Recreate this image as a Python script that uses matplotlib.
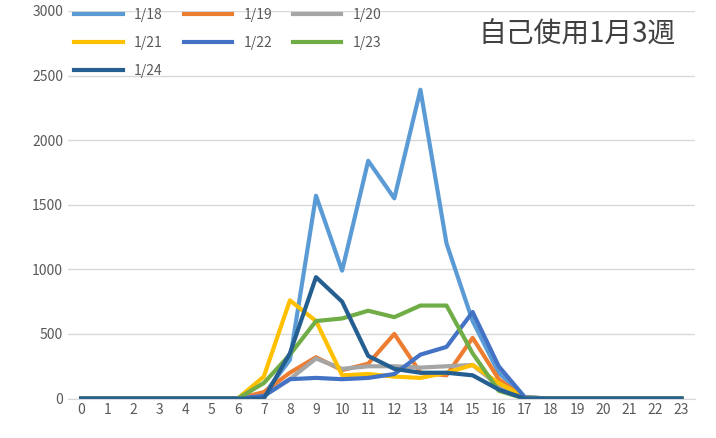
import matplotlib.pyplot as plt

plt.rcParams['font.family'] = ['Noto Sans CJK JP', 'DejaVu Sans']

hours = list(range(24))
z7 = [0] * 7
z6 = [0] * 6
s_0118 = z7 + [30, 300, 1570, 990, 1840, 1550, 2390, 1200, 600, 200, 10] + z6
s_0119 = z7 + [50, 200, 320, 220, 270, 500, 200, 180, 470, 150, 0] + z6
s_0120 = z7 + [20, 150, 310, 230, 250, 250, 240, 250, 260, 100, 0] + z6
s_0121 = z7 + [170, 760, 600, 180, 190, 170, 160, 200, 260, 120, 10] + z6
s_0122 = z7 + [20, 150, 160, 150, 160, 190, 340, 400, 670, 250, 10] + z6
s_0123 = z7 + [120, 340, 600, 620, 680, 630, 720, 720, 350, 60, 0] + z6
s_0124 = z7 + [0, 350, 940, 750, 330, 230, 200, 200, 180, 70, 0] + z6

series = [
    ('1/18', s_0118, '#5B9BD5'),
    ('1/19', s_0119, '#ED7D31'),
    ('1/20', s_0120, '#A5A5A5'),
    ('1/21', s_0121, '#FFC000'),
    ('1/22', s_0122, '#4472C4'),
    ('1/23', s_0123, '#70AD47'),
    ('1/24', s_0124, '#255E91'),
]

fig, ax = plt.subplots(figsize=(7.16, 4.38), dpi=100)
fig.subplots_adjust(left=0.095, right=0.97, top=0.975, bottom=0.09)

for label, vals, col in series:
    ax.plot(hours, vals, color=col, linewidth=3, label=label)

ax.set_ylim(0, 3000)
ax.set_xlim(-0.5, 23.5)
ax.set_xticks(hours)
ax.set_yticks(range(0, 3001, 500))
ax.grid(axis='y', color='#D9D9D9', linewidth=1)
ax.set_axisbelow(True)
for s in ['top', 'right', 'left']:
    ax.spines[s].set_visible(False)
ax.spines['bottom'].set_color('#D9D9D9')
ax.tick_params(length=0, labelsize=10, colors='#595959')

# legend filled row-wise like the original
handles, labels = ax.get_legend_handles_labels()
order = [0, 3, 6, 1, 4, 2, 5]
ax.legend([handles[i] for i in order], [labels[i] for i in order],
          loc='upper left', ncol=3, frameon=False, fontsize=10,
          handlelength=3.5, columnspacing=1.5, labelcolor='#595959',
          labelspacing=1.0, bbox_to_anchor=(-0.01, 1.04))
ax.text(0.97, 0.94, '自己使用1月3週', transform=ax.transAxes, ha='right', va='center',
        fontsize=20, color='#404040')

fig.savefig('out.png')
